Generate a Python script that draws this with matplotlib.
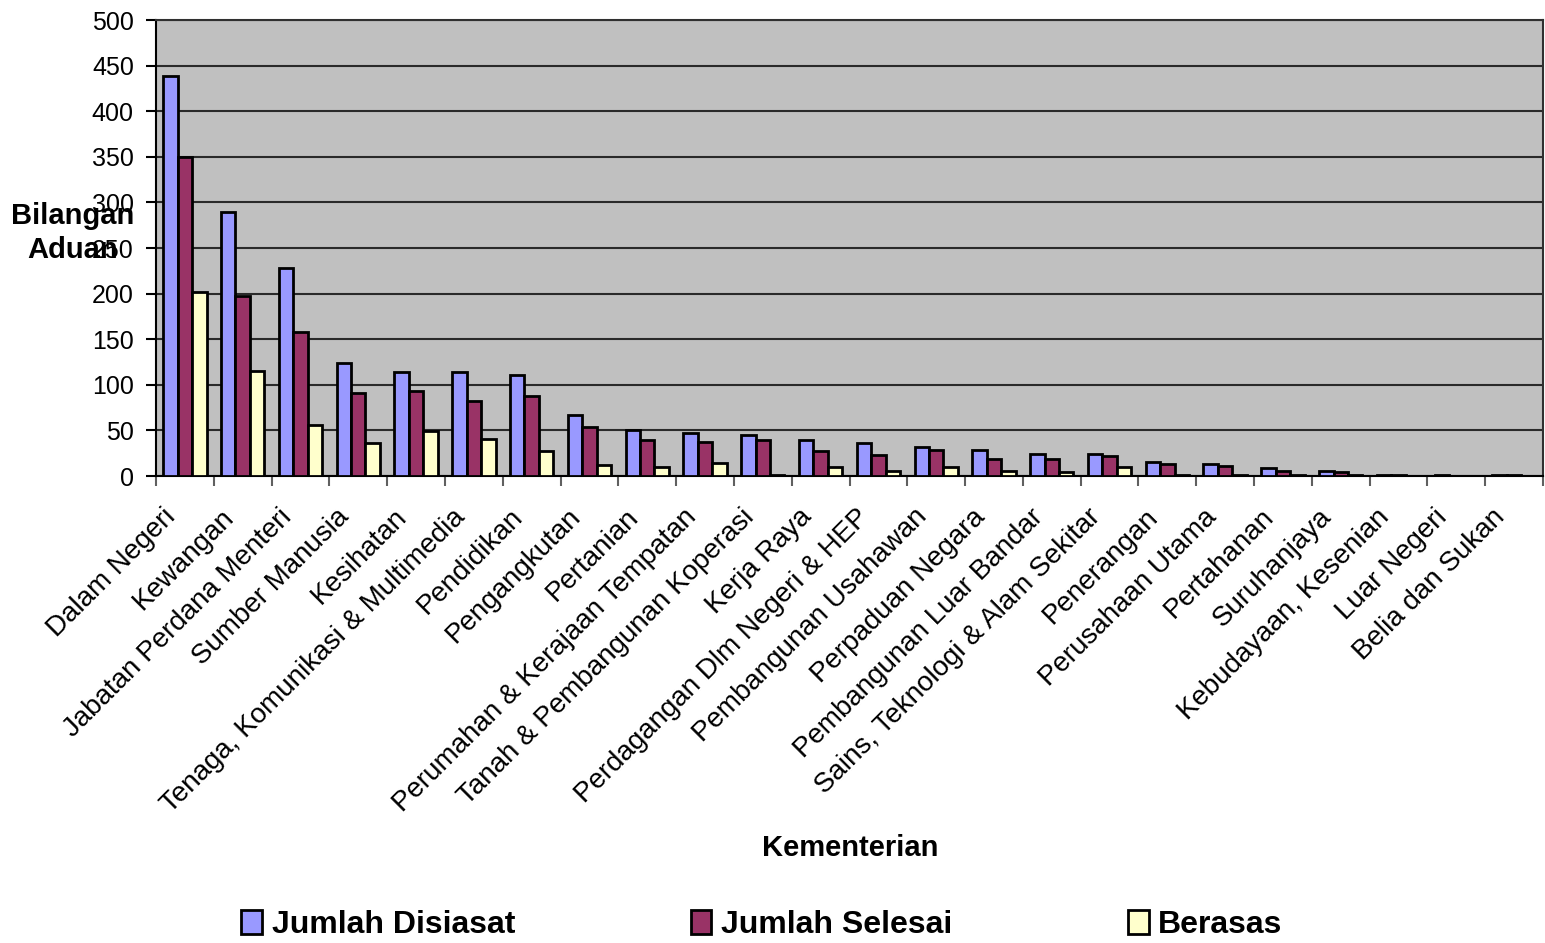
#!/usr/bin/env python3
"""Bilangan aduan mengikut kementerian: clustered bars, Excel-style grey plot area."""

import matplotlib
matplotlib.use("Agg")
import matplotlib.pyplot as plt
import numpy as np
from matplotlib.transforms import ScaledTranslation

plt.rcParams["font.family"] = ["Liberation Sans", "DejaVu Sans"]

categories = [
    "Dalam Negeri", "Kewangan", "Jabatan Perdana Menteri", "Sumber Manusia",
    "Kesihatan", "Tenaga, Komunikasi & Multimedia", "Pendidikan",
    "Pengangkutan", "Pertanian", "Perumahan & Kerajaan Tempatan",
    "Tanah & Pembangunan Koperasi", "Kerja Raya",
    "Perdagangan Dlm Negeri & HEP", "Pembangunan Usahawan",
    "Perpaduan Negara", "Pembangunan Luar Bandar",
    "Sains, Teknologi & Alam Sekitar", "Penerangan", "Perusahaan Utama",
    "Pertahanan", "Suruhanjaya", "Kebudayaan, Kesenian", "Luar Negeri",
    "Belia dan Sukan",
]
disiasat = [439, 290, 228, 124, 114, 114, 111, 67, 50, 47, 45, 39, 36, 32,
            28, 24, 24, 15, 13, 9, 6, 1, 1, 1]
selesai = [350, 197, 158, 91, 93, 82, 88, 54, 39, 37, 39, 27, 23, 28,
           19, 19, 22, 13, 11, 6, 4, 1, 0, 1]
berasas = [202, 115, 56, 36, 49, 41, 27, 12, 10, 14, 1, 10, 6, 10,
           6, 4, 10, 1, 1, 1, 1, 0, 0, 0]
series_names = ["Jumlah Disiasat", "Jumlah Selesai", "Berasas"]
series_colors = ["#9999FF", "#993366", "#FFFFCC"]

fig = plt.figure(figsize=(15.45, 9.43), dpi=100)
ax = fig.add_axes([156 / 1545, 1 - 476 / 943, 1387 / 1545, 456 / 943])
ax.set_facecolor("#C0C0C0")

n = len(categories)
x = np.arange(n)
width = 0.25
for k, (vals, name, col) in enumerate(zip([disiasat, selesai, berasas],
                                          series_names, series_colors)):
    ax.bar(x + 0.125 + k * width, vals, width, align="edge", color=col,
           edgecolor="black", linewidth=2.0, label=name, zorder=3)

ax.set_xlim(0, n)
ax.set_ylim(0, 500)
ax.set_yticks(np.arange(0, 501, 50))
ax.yaxis.grid(True, color="#2a2a2a", linewidth=1.5, zorder=1)
ax.set_axisbelow(True)

ax.set_xticks(np.arange(0, n + 1))
ax.set_xticklabels([])
ax.set_xticks(x + 0.5, minor=True)
ax.set_xticklabels(categories, minor=True, rotation=45, ha="right",
                   va="top", rotation_mode="anchor", fontsize=20)
ax.tick_params(axis="x", which="minor", length=0, pad=20)
ax.tick_params(axis="x", which="major", length=7, width=1.5,
               color="#606060", direction="out")
ax.tick_params(axis="y", length=7, width=1.5, pad=9, labelsize=18,
               direction="out")
offset = ScaledTranslation(-22 / 100, 0, fig.dpi_scale_trans)
for lab in ax.get_xticklabels(minor=True):
    lab.set_transform(lab.get_transform() + offset)

for side in ["left", "bottom"]:
    ax.spines[side].set_color("black")
    ax.spines[side].set_linewidth(1.5)
for side in ["top", "right"]:
    ax.spines[side].set_color("#303030")
    ax.spines[side].set_linewidth(1.5)

fig.text(73 / 1545, 1 - 233 / 943, "Bilangan\nAduan", ha="center",
         va="center", fontsize=21, fontweight="bold", multialignment="center",
         linespacing=1.3)
fig.text(850 / 1545, 1 - 848 / 943, "Kementerian", ha="center",
         va="center", fontsize=21, fontweight="bold")

fig.legend(loc="center", bbox_to_anchor=(762 / 1545, 1 - 925 / 943), ncol=3,
           frameon=False, prop={"size": 23, "weight": "bold"},
           handlelength=0.65, handleheight=0.75, handletextpad=0.3,
           columnspacing=5.5)

fig.savefig("out.png", dpi=100)
